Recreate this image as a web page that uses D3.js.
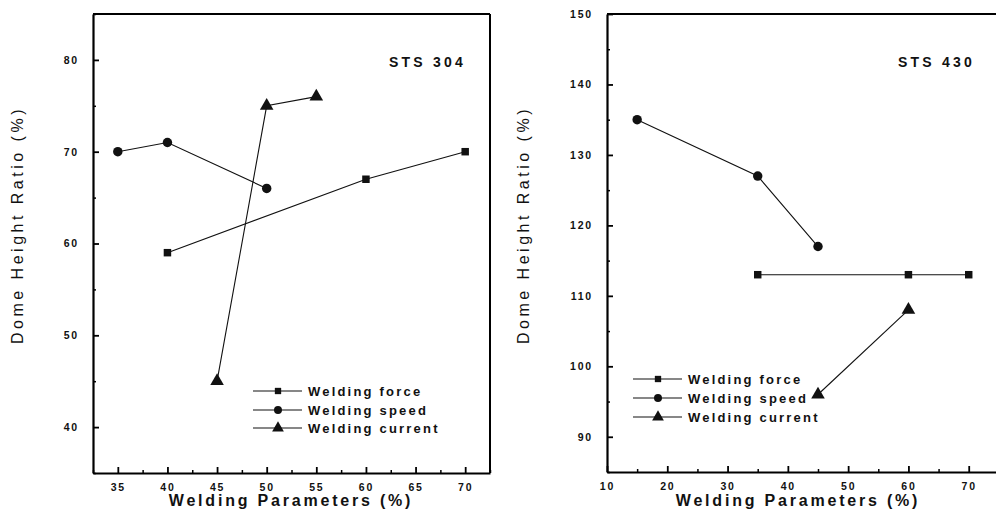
<!DOCTYPE html>
<html><head><meta charset="utf-8">
<script src="https://cdn.jsdelivr.net/npm/d3@7"></script>
<style>
body{margin:0;background:#fff;}
svg{display:block;}
text{font-family:"Liberation Sans",Arial,sans-serif;fill:#111;}
</style></head>
<body>
<svg id="c" width="996" height="518"></svg>
<script>
// ---- data ----
const seriesNames = ["Welding force","Welding speed","Welding current"];
const leftTitle = "STS 304";
const rightTitle = "STS 430";
const leftForceX = [40,60,70],  leftForceY = [59,67,70];
const leftSpeedX = [35,40,50],  leftSpeedY = [70,71,66];
const leftCurrX  = [45,50,55],  leftCurrY  = [45,75,76];
const rightForceX = [35,60,70], rightForceY = [113,113,113];
const rightSpeedX = [15,35,45], rightSpeedY = [135,127,117];
const rightCurrX  = [45,60],    rightCurrY  = [96,108];
const leftXTicks = [35,40,45,50,55,60,65,70];
const leftYTicks = [40,50,60,70,80];
const rightXTicks = [10,20,30,40,50,60,70];
const rightYTicks = [90,100,110,120,130,140,150];

const svg = d3.select("#c");
const symbols = [d3.symbolSquare, d3.symbolCircle, d3.symbolTriangle];
const symSize = [56, 70, 80];
const legSize = [40, 50, 60];

function panel(cfg){
  const g = svg.append("g");
  const x = d3.scaleLinear().domain(cfg.xd).range(cfg.xr);
  const y = d3.scaleLinear().domain(cfg.yd).range(cfg.yr);
  const [x0,x1] = cfg.xr, [y0,y1] = cfg.yr;
  g.append("line").attr("x1",x0).attr("x2",Math.min(x1,1000)).attr("y1",y1).attr("y2",y1).attr("stroke","#000").attr("stroke-width",2);
  if(cfg.rightBorder) g.append("line").attr("x1",x1).attr("x2",x1).attr("y1",y1).attr("y2",y0).attr("stroke","#000").attr("stroke-width",2);
  const xMinor = d3.range(cfg.xd[0], cfg.xd[1]+0.001, cfg.xMinorStep).filter(v=>!cfg.xTicks.includes(v));
  const yMinor = d3.range(cfg.yd[0], cfg.yd[1]+0.001, cfg.yMinorStep).filter(v=>!cfg.yTicks.includes(v));
  g.append("g").attr("transform",`translate(0,${y0})`)
    .call(d3.axisBottom(x).tickValues(xMinor).tickSize(-3).tickFormat(""))
    .call(a=>{a.select(".domain").remove(); a.selectAll("line").attr("stroke-width",1.5);});
  g.append("g").attr("transform",`translate(${x0},0)`)
    .call(d3.axisLeft(y).tickValues(yMinor).tickSize(-3).tickFormat(""))
    .call(a=>{a.select(".domain").remove(); a.selectAll("line").attr("stroke-width",1.5);});
  const xa = g.append("g").attr("transform",`translate(0,${y0})`)
    .call(d3.axisBottom(x).tickValues(cfg.xTicks).tickSize(-6).tickSizeOuter(0).tickPadding(11));
  const ya = g.append("g").attr("transform",`translate(${x0},0)`)
    .call(d3.axisLeft(y).tickValues(cfg.yTicks).tickSize(-6).tickSizeOuter(0).tickPadding(14));
  [xa,ya].forEach(a=>{
    a.attr("font-family",null).attr("font-size",null);
    a.select(".domain").attr("stroke-width",2.2);
    a.selectAll(".tick line").attr("stroke-width",1.8);
    a.selectAll("text").style("font-size","10.5px").style("font-weight","700").style("letter-spacing","1.8px")
      .style("font-family",'"Liberation Sans",Arial,sans-serif').attr("fill","#111");
  });
  const line = d3.line();
  cfg.series.forEach((s,i)=>{
    const pts = s.x.map((v,k)=>[x(v), y(s.y[k])]);
    g.append("path").attr("d",line(pts)).attr("fill","none").attr("stroke","#111").attr("stroke-width",1.1);
    g.selectAll(null).data(pts).enter().append("path")
      .attr("d",d3.symbol().type(symbols[i]).size(symSize[i]))
      .attr("transform",d=>`translate(${d[0]},${d[1]})`).attr("fill","#111");
  });
  g.append("text").attr("x",cfg.titlePos[0]).attr("y",cfg.titlePos[1]).attr("font-size",14).attr("font-weight","bold")
    .attr("letter-spacing","3.2px").text(cfg.title);
  g.append("text").attr("x",cfg.xLabPos[0]).attr("y",cfg.xLabPos[1]).attr("text-anchor","middle")
    .attr("font-size",16).attr("font-weight","bold").attr("letter-spacing","2.8px").text("Welding Parameters (%)");
  g.append("text").attr("transform",`translate(${cfg.yLabPos[0]},${cfg.yLabPos[1]}) rotate(-90)`).attr("text-anchor","middle")
    .attr("font-size",16).attr("letter-spacing","3.5px").text("Dome Height Ratio (%)");
  seriesNames.forEach((n,i)=>{
    const ly = cfg.legY[i], lx = cfg.legX;
    g.append("line").attr("x1",lx).attr("x2",lx+49).attr("y1",ly).attr("y2",ly).attr("stroke","#111").attr("stroke-width",1.1);
    g.append("path").attr("d",d3.symbol().type(symbols[i]).size(legSize[i])).attr("transform",`translate(${lx+25},${ly})`).attr("fill","#111");
    g.append("text").attr("x",lx+55).attr("y",ly+4.5).attr("font-size",13).attr("font-weight","bold").attr("letter-spacing","2.2px").text(n);
  });
}

panel({
  xd:[32.5,72.5], xr:[93,490], yd:[35,85], yr:[473,14], rightBorder:true,
  xTicks:leftXTicks, yTicks:leftYTicks, xMinorStep:2.5, yMinorStep:5,
  series:[{x:leftForceX,y:leftForceY},{x:leftSpeedX,y:leftSpeedY},{x:leftCurrX,y:leftCurrY}],
  title:leftTitle, titlePos:[389,67], xLabPos:[291,506], yLabPos:[23,225],
  legX:253, legY:[391,410,428]
});
panel({
  xd:[10,80], xr:[607,1029], yd:[85,150], yr:[472,14], rightBorder:false,
  xTicks:rightXTicks, yTicks:rightYTicks, xMinorStep:5, yMinorStep:5,
  series:[{x:rightForceX,y:rightForceY},{x:rightSpeedX,y:rightSpeedY},{x:rightCurrX,y:rightCurrY}],
  title:rightTitle, titlePos:[898,67], xLabPos:[798,506], yLabPos:[529,225],
  legX:633, legY:[379,398,417]
});
</script>
</body></html>
